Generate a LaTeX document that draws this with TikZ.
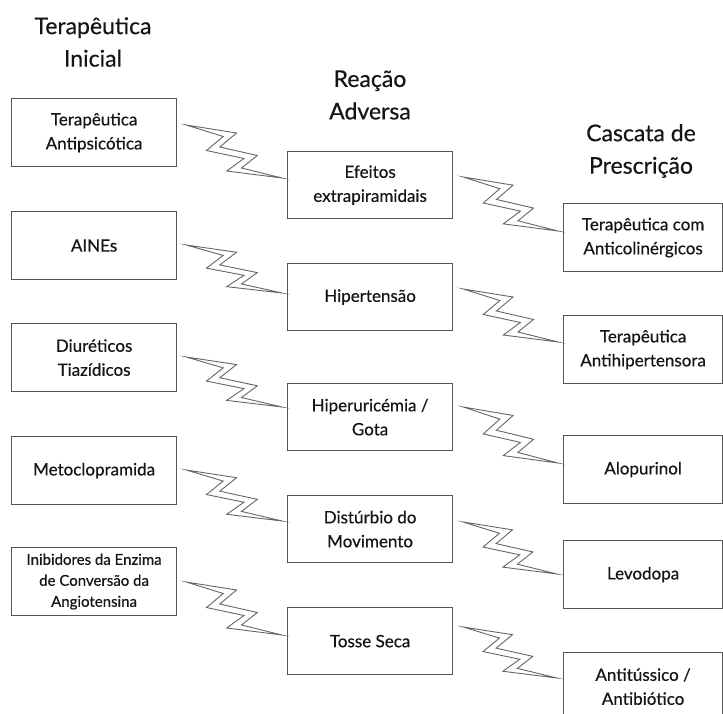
\documentclass[tikz,border=0pt]{standalone}
\usepackage{fontspec}
\setmainfont{Lato}[FakeBold=0.45]
\usetikzlibrary{calc}
\definecolor{boxline}{HTML}{555555}
\definecolor{boltline}{HTML}{666666}
\definecolor{txt}{HTML}{151515}
\tikzset{
  basebox/.style={draw=boxline, line width=1.2pt, fill=white, inner sep=2pt,
    align=center, text=txt, anchor=north west, minimum height=68pt,
    font=\fontsize{17}{24}\selectfont},
  lbox/.style={basebox, minimum width=165pt},
  mbox/.style={basebox, minimum width=165pt, minimum height=67pt},
  rbox/.style={basebox, minimum width=159pt},
  head/.style={align=center, text=txt, font=\fontsize{23}{32.5}\selectfont},
  bolt/.style={draw=boltline, line width=0.9pt, fill=white, line join=miter, miter limit=20}
}
% lightning-bolt connector from #1 (left tip) to #2 (right tip)
\newcommand{\zap}[2]{%
  \draw[bolt] let \p1=(#1), \p2=(#2), \n1={(\x2-\x1)/97}, \n2={(\y2-\y1)/53} in
    (\p1)
    -- ({\x1+51.0pt*\n1},{\y1+8.0pt*\n2})
    -- ({\x1+34.0pt*\n1},{\y1+22.0pt*\n2})
    -- ({\x1+72.0pt*\n1},{\y1+30.5pt*\n2})
    -- ({\x1+56.0pt*\n1},{\y1+43.0pt*\n2})
    -- (\p2)
    -- ({\x1+41.0pt*\n1},{\y1+46.0pt*\n2})
    -- ({\x1+58.5pt*\n1},{\y1+33.5pt*\n2})
    -- ({\x1+20.5pt*\n1},{\y1+25.5pt*\n2})
    -- ({\x1+37.5pt*\n1},{\y1+11.5pt*\n2})
    -- cycle;}
\begin{document}
\begin{tikzpicture}[x=1pt,y=-1pt]
\useasboundingbox (0,0) rectangle (723,713);
\clip (0,0) rectangle (723,713);

% headers
\node[head] (H1) at (93,42) {Terapêutica\\Inicial};
\node[head] (H2) at (370,95) {Reação\\Adversa};
\node[head] (H3) at (641,151) {Cascata de\\Prescrição};

% left column
\node[lbox] (L1) at (11,98)  {Terapêutica\\Antipsicótica};
\node[lbox] (L2) at (11,211) {AINEs};
\node[lbox] (L3) at (11,323) {Diuréticos\\Tiazídicos};
\node[lbox] (L4) at (11,436) {Metoclopramida};
\node[lbox, font=\fontsize{15}{21}\selectfont] (L5) at (11,547) {Inibidores da Enzima\\de Conversão da\\Angiotensina};

% middle column
\node[mbox] (M1) at (287,151) {Efeitos\\extrapiramidais};
\node[mbox] (M2) at (287,263) {Hipertensão};
\node[mbox] (M3) at (287,383) {Hiperuricémia /\\Gota};
\node[mbox] (M4) at (287,495) {Distúrbio do\\Movimento};
\node[mbox] (M5) at (287,607) {Tosse Seca};

% right column
\node[rbox] (R1) at (563,203) {Terapêutica com\\Anticolinérgicos};
\node[rbox] (R2) at (563,315) {Terapêutica\\Antihipertensora};
\node[rbox] (R3) at (563,435) {Alopurinol};
\node[rbox] (R4) at (563,540) {Levodopa};
\node[rbox] (R5) at (563,652) {Antitússico /\\Antibiótico};

% bolt end points
\coordinate (a1) at ($(L1.north east)+(9,27)$);
\coordinate (b1) at ($(M1.north west)+(-5,27)$);
\coordinate (a2) at ($(L2.north east)+(9,34)$);
\coordinate (b2) at ($(M2.north west)+(-5,30)$);
\coordinate (a3) at ($(L3.north east)+(9,34)$);
\coordinate (b3) at ($(M3.north west)+(-5,24)$);
\coordinate (a4) at ($(L4.north east)+(9,34)$);
\coordinate (b4) at ($(M4.north west)+(-5,26)$);
\coordinate (a5) at ($(L5.north east)+(9,35)$);
\coordinate (b5) at ($(M5.north west)+(-5,28)$);

\coordinate (c1) at ($(M1.north east)+(10,26)$);
\coordinate (d1) at ($(R1.north west)+(-5,28)$);
\coordinate (c2) at ($(M2.north east)+(10,26)$);
\coordinate (d2) at ($(R2.north west)+(-5,27)$);
\coordinate (c3) at ($(M3.north east)+(10,24)$);
\coordinate (d3) at ($(R3.north west)+(-5,28)$);
\coordinate (c4) at ($(M4.north east)+(10,27)$);
\coordinate (d4) at ($(R4.north west)+(-6,34)$);
\coordinate (c5) at ($(M5.north east)+(10,20)$);
\coordinate (d5) at ($(R5.north west)+(-6,26)$);

\zap{a1}{b1}
\zap{a2}{b2}
\zap{a3}{b3}
\zap{a4}{b4}
\zap{a5}{b5}
\zap{c1}{d1}
\zap{c2}{d2}
\zap{c3}{d3}
\zap{c4}{d4}
\zap{c5}{d5}
\end{tikzpicture}
\end{document}
